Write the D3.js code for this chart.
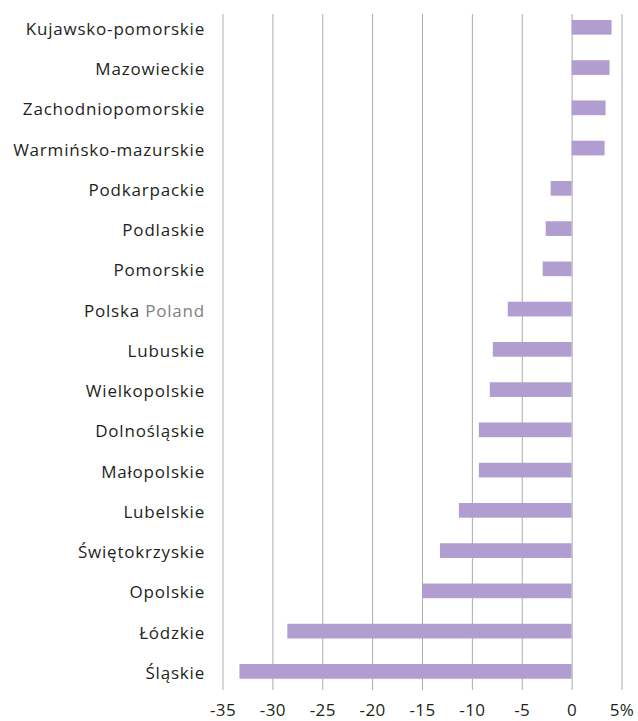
<!DOCTYPE html>
<html>
<head>
<meta charset="utf-8">
<script src="https://cdn.jsdelivr.net/npm/d3@7"></script>
<style>
  html, body { margin: 0; padding: 0; background: #fff; }
  svg { display: block; }
</style>
</head>
<body>
<svg id="chart" width="638" height="721"></svg>
<script>
const categories = [
  "Kujawsko-pomorskie", "Mazowieckie", "Zachodniopomorskie", "Warmińsko-mazurskie",
  "Podkarpackie", "Podlaskie", "Pomorskie", "Polska|Poland", "Lubuskie",
  "Wielkopolskie", "Dolnośląskie", "Małopolskie", "Lubelskie", "Świętokrzyskie",
  "Opolskie", "Łódzkie", "Śląskie"
];
const values = [4.0, 3.8, 3.4, 3.3, -2.1, -2.6, -2.9, -6.4, -7.9, -8.2, -9.3, -9.3, -11.3, -13.2, -15.0, -28.5, -33.3];
const tickValues = [-35, -30, -25, -20, -15, -10, -5, 0, 5];
const tickLabels = ["-35", "-30", "-25", "-20", "-15", "-10", "-5", "0", "5%"];

const svg = d3.select("#chart");
const FONT = "'Open Sans', 'Noto Sans', sans-serif";

const x = d3.scaleLinear().domain([-35, 5]).range([222.5, 621.5]);
const y = d3.scaleBand().domain(categories).range([7.2, 691.5])
  .paddingInner(0.635).paddingOuter(0.3175);

// gridlines
const grid = svg.append("g").attr("transform", "translate(0,14)")
  .call(d3.axisBottom(x).tickValues(tickValues).tickSize(676).tickFormat(""));
grid.select(".domain").remove();
grid.selectAll(".tick line").attr("stroke", "#ababab").attr("stroke-width", 1);

// bars
svg.append("g").selectAll("rect").data(values).join("rect")
  .attr("x", d => x(Math.min(0, d)))
  .attr("width", d => Math.abs(x(d) - x(0)))
  .attr("y", (d, i) => y(categories[i]))
  .attr("height", y.bandwidth())
  .attr("fill", "#b19dd0");

// x tick labels
const xa = svg.append("g").attr("transform", "translate(0,716.3)")
  .call(d3.axisBottom(x).tickValues(tickValues).tickSize(0)
    .tickFormat((d, i) => tickLabels[i]));
xa.select(".domain").remove();
xa.selectAll("text").attr("font-family", FONT).attr("font-size", 17)
  .attr("letter-spacing", "0.4px")
  .attr("fill", "#231f20").attr("y", 0).attr("dy", 0);

// category labels
const lab = svg.append("g").selectAll("text").data(categories).join("text")
  .attr("x", 205)
  .attr("y", d => y(d) + y.bandwidth() / 2 + 7.5)
  .attr("text-anchor", "end")
  .attr("font-family", FONT).attr("font-size", 17)
  .attr("letter-spacing", "0.8px")
  .attr("fill", "#231f20");
lab.each(function(d) {
  const parts = d.split("|");
  const t = d3.select(this);
  t.append("tspan").text(parts[0]);
  if (parts[1]) t.append("tspan").attr("fill", "#7f7f7f").text(" " + parts[1]);
});
</script>
</body>
</html>
